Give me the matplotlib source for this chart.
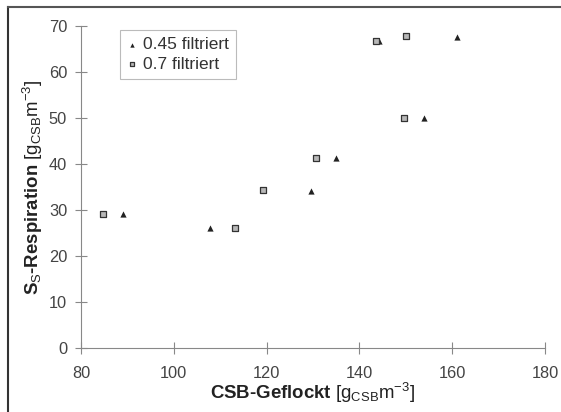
import matplotlib.pyplot as plt
from matplotlib.lines import Line2D

plt.rcParams['font.family'] = ['Liberation Sans', 'DejaVu Sans']
plt.rcParams['mathtext.fontset'] = 'custom'
plt.rcParams['mathtext.rm'] = 'Liberation Sans'
plt.rcParams['mathtext.it'] = 'Liberation Sans'
plt.rcParams['mathtext.bf'] = 'Liberation Sans:bold'

# Messwerte: CSB geflockt gegen S_S aus Respiration
csb_045 = [89.1, 107.7, 129.5, 134.9, 144.3, 153.9, 161.0]
ss_045 = [29.1, 26.0, 34.2, 41.2, 66.7, 50.1, 67.7]

csb_07 = [84.7, 113.2, 119.3, 130.6, 143.5, 149.6, 150.0]
ss_07 = [29.1, 26.0, 34.3, 41.2, 66.7, 50.1, 67.8]

x_ticks = [80, 100, 120, 140, 160, 180]
y_ticks = [0, 10, 20, 30, 40, 50, 60, 70]

fig = plt.figure(figsize=(5.61, 4.12), dpi=100)
ax = fig.add_axes([0.1444, 0.1553, 0.8271, 0.7816])

ax.scatter(csb_045, ss_045, marker='^', s=20, color='#222222',
           linewidths=0, label='0.45 filtriert', zorder=3)
ax.scatter(csb_07, ss_07, marker='s', s=13, facecolor='#b8b8b8',
           edgecolor='#333333', linewidths=0.9, label='0.7 filtriert', zorder=3)

ax.set_xlim(80, 180)
ax.set_ylim(0, 70)
ax.set_xticks(x_ticks)
ax.set_yticks(y_ticks)

for side in ['top', 'right']:
    ax.spines[side].set_visible(False)
for side in ['left', 'bottom']:
    ax.spines[side].set_color('#888888')
    ax.spines[side].set_linewidth(0.8)
ax.tick_params(direction='inout', length=8, width=0.8, color='#888888',
               labelsize=11.8, labelcolor='#444444')
ax.tick_params(axis='x', pad=9)
ax.tick_params(axis='y', pad=6)

unit = r'$[\mathrm{g}_{\mathrm{CSB}}\mathrm{m}^{\mathrm{-3}}]$'
ax.set_xlabel('CSB-Geflockt ' + unit, fontsize=13.4, fontweight='bold',
              color='#222222', labelpad=0)
ax.set_ylabel(r'S$_{\mathrm{S}}$-Respiration ' + unit, fontsize=13.4,
              fontweight='bold', color='#222222', labelpad=3)

leg = ax.legend(loc='upper left', bbox_to_anchor=(0.084, 0.988), fontsize=12.5,
                frameon=True, fancybox=False, markerscale=0.7,
                handlelength=0.5, handletextpad=0.4, borderpad=0.42,
                labelspacing=0.25, borderaxespad=0, labelcolor='#333333')
leg.get_frame().set_edgecolor('#aaaaaa')
leg.get_frame().set_linewidth(0.8)

# Rahmen links und oben
fig.add_artist(Line2D([8 / 561, 8 / 561], [0, 1 - 6.5 / 412],
                      transform=fig.transFigure, color='#333333', lw=1.5))
fig.add_artist(Line2D([8 / 561, 1], [1 - 6.5 / 412, 1 - 6.5 / 412],
                      transform=fig.transFigure, color='#555555', lw=1.5))

fig.savefig('out.png', dpi=100)
